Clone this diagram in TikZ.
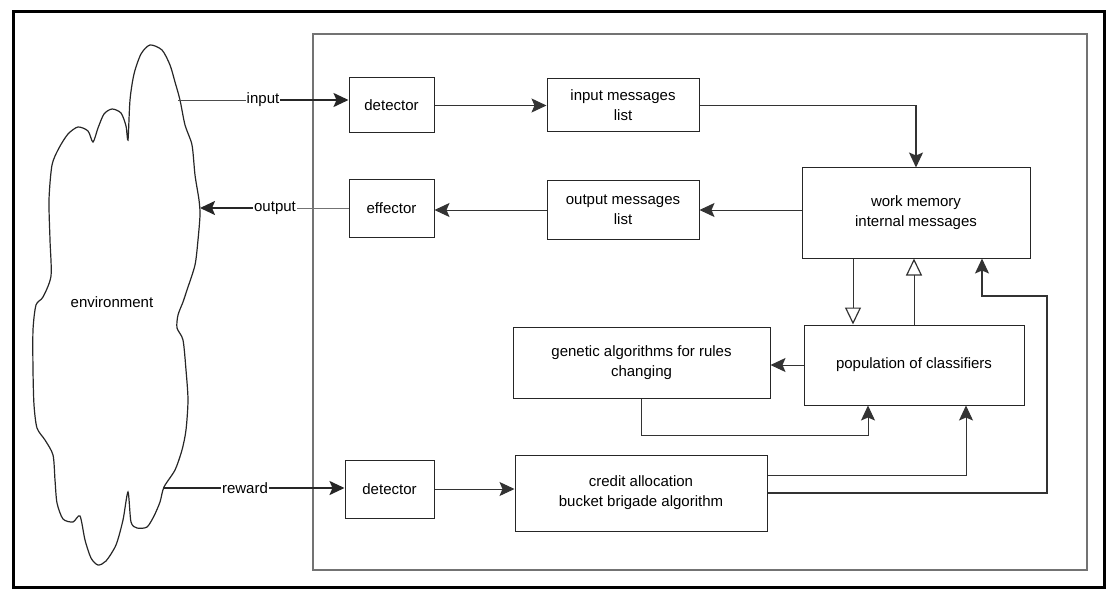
\documentclass[tikz,border=0pt]{standalone}
\usepackage{fontspec}
\setmainfont{Liberation Sans}
\usetikzlibrary{arrows.meta}
\begin{document}
\begin{tikzpicture}[x=1pt,y=-1pt,
  txt/.style={font=\fontsize{15}{20}\selectfont},
  box/.style={txt,draw=black!85,line width=1pt,fill=white,align=center,inner sep=0pt},
  conn/.style={draw=black!80,line width=1pt,-{Stealth[length=15pt,width=14pt,inset=3pt]}},
  bold/.style={draw=black!85,line width=2pt,-{Stealth[length=15pt,width=14pt,inset=3pt]}},
  thin/.style={draw=black!70,line width=0.9pt},
  hollow/.style={draw=black!80,line width=1pt,-{Triangle[open,fill=white,length=17pt,width=16pt,line width=1.2pt]}},
  lbl/.style={txt,fill=white,inner sep=1pt}]
\useasboundingbox (0,0) rectangle (1110,596);

% outer frame and the system boundary
\draw[line width=3pt,black] (13,12) rectangle (1104,587);
\draw[line width=1.2pt,black!55] (313,34) rectangle (1087,570);

% environment cloud
\draw[line width=1.2pt,black!85] plot[smooth cycle,tension=0.45] coordinates {
  (150,45) (162,50) (170,65) (175,82) (180,100) (185,125) (192,145) (195,175)
  (199,200) (200,215) (198,240) (195,265) (187,290) (183,302) (178,315) (177,328)
  (183,340) (186,370) (188,400) (186,430) (182,450) (175,470) (164,487)
  (160,502) (154,516) (147,527) (137,528) (131,522) (128,492)
  (123,520) (116,545) (106,561) (98,565) (91,558) (85,540) (80,516)
  (73,522) (63,519) (57,503) (55,480) (53,455) (45,440) (37,428) (34,405)
  (33,370) (33,330) (36,305) (43,297) (51,276) (50,240) (49,200) (52,165)
  (59,148) (68,134) (78,127) (88,131) (93,142) (98,128) (104,114) (112,109)
  (121,113) (126,126) (128,140) (130,100) (134,74) (141,54)};
\node[txt] (env) at (112,302) {environment};

\coordinate (cin) at (178,100);
\coordinate (cout) at (200,208);
\coordinate (crw) at (163,488);

% processing blocks
\node[box,minimum width=85,minimum height=55] (det1) at (391.5,105.5) {detector};
\node[box,minimum width=85,minimum height=57] (eff) at (391.5,208.5) {effector};
\node[box,minimum width=152,minimum height=53] (inlist) at (623,105.5) {input messages\\list};
\node[box,minimum width=152,minimum height=58] (outlist) at (623,210) {output messages\\list};
\node[box,minimum width=228,minimum height=90] (wm) at (916,213) {work memory\\internal messages};
\node[box,minimum width=220,minimum height=80] (pop) at (914,365) {population of classifiers};
\node[box,minimum width=257,minimum height=71] (gen) at (641.5,362.5) {genetic algorithms for rules\\changing};
\node[box,minimum width=89,minimum height=58] (det2) at (389.5,489) {detector};
\node[box,minimum width=252,minimum height=76] (credit) at (641,493) {credit allocation\\bucket brigade algorithm};

% labels on the links with the environment
\node[lbl] (inlbl) at (263,100) {input};
\node[lbl] (outlbl) at (275,208) {output};
\node[lbl] (rwlbl) at (245,488) {reward};

% environment links
\draw[thin] (cin) -- (inlbl);
\draw[bold] (inlbl) -- (inlbl -| det1.west);
\draw[thin,draw=black!55] (eff.west |- outlbl) -- (outlbl);
\draw[bold] (outlbl) -- (cout);
\draw[thin,line width=1.4pt,draw=black!85] (crw) -- (rwlbl);
\draw[bold] (rwlbl) -- (rwlbl -| det2.west);

% message flow
\draw[conn] (det1.east) -- (det1.east -| inlist.west);
\draw[conn,line width=1.4pt] (inlist.east) -| (wm.north);
\draw[conn] (wm.west |- outlist.east) -- (outlist.east);
\draw[conn] (outlist.west) -- (outlist.west -| eff.east);
\draw[hollow] ([xshift=-63pt]wm.south) -- ([xshift=-63pt]wm.south |- pop.north);
\draw[hollow] (pop.north) -- (pop.north |- wm.south);
\draw[conn] (pop.west) -- (pop.west -| gen.east);
\draw[conn] (gen.south) -- ++(0,37) -| ([xshift=-46pt]pop.south);
\draw[conn] (det2.east) -- (det2.east -| credit.west);
\draw[conn] ([yshift=18pt]credit.east) -| ([xshift=52pt]pop.south);
\coordinate (ret) at (1047,296);
\draw[conn,line width=1.3pt] (credit.east) -| (ret) -| ([xshift=66pt]wm.south);
\end{tikzpicture}
\end{document}
